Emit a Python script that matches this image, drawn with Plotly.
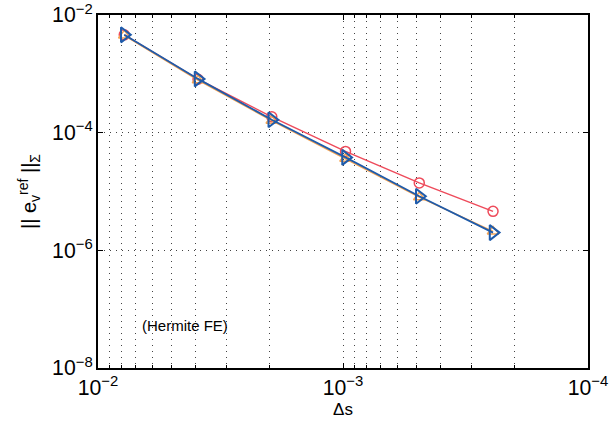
import plotly.graph_objects as go

ds = [1/128, 1/256, 1/512, 1/1024, 1/2048, 1/4096]
err_red = [4.6e-3, 8.1e-4, 1.86e-4, 4.8e-5, 1.4e-5, 4.6e-6]
err_orange = [4.5e-3, 7.8e-4, 1.6e-4, 3.6e-5, 8.0e-6, 2.1e-6]
err_blue = [4.6e-3, 8.2e-4, 1.66e-4, 3.8e-5, 8.3e-6, 2.0e-6]

FONT = "Liberation Sans, Arial"

fig = go.Figure()
fig.add_trace(go.Scatter(x=ds, y=err_red, mode="lines+markers",
                         line=dict(color="#EE4B5B", width=1.5),
                         marker=dict(symbol="circle-open", size=10, color="#EE4B5B", line=dict(width=1.5))))
fig.add_trace(go.Scatter(x=ds, y=err_orange, mode="lines+markers",
                         line=dict(color="#F7A451", width=1.5),
                         marker=dict(symbol="triangle-up-open", size=10, color="#F7A451", line=dict(width=1.5))))
fig.add_trace(go.Scatter(x=ds, y=err_blue, mode="lines+markers",
                         line=dict(color="#1F5BAA", width=1.8),
                         marker=dict(symbol="triangle-right-open", size=13, color="#1F5BAA", line=dict(width=2))))

GRID = dict(gridcolor="#444", griddash="1px,5px", gridwidth=1)

axis_common = dict(showline=True, linecolor="black", linewidth=1.8, mirror="ticks",
                   ticks="inside", ticklen=5, tickcolor="black", automargin=False,
                   exponentformat="power", showexponent="all", zeroline=False,
                   tickfont=dict(family=FONT, size=17, color="black"), **GRID)

fig.update_xaxes(type="log", range=[-2, -4], dtick=1,
                 minor=dict(dtick="D1", showgrid=True, ticks="inside", ticklen=3, tickcolor="black", **GRID),
                 title=dict(text="Δs", font=dict(family=FONT, size=17, color="black"), standoff=0),
                 **axis_common)
fig.update_yaxes(type="log", range=[-8, -2], dtick=2,
                 title=dict(text="|| e<sub>v</sub><sup>ref</sup> ||<sub>Σ</sub>",
                            font=dict(family=FONT, size=20, color="black"), standoff=10),
                 **axis_common)

fig.add_annotation(x=0.085, y=0.12, xref="paper", yref="paper", xanchor="left", yanchor="middle",
                   text="(Hermite FE)", showarrow=False,
                   font=dict(family=FONT, size=15, color="black"))

fig.update_layout(width=614, height=430, margin=dict(l=98, r=26, t=15, b=62),
                  plot_bgcolor="white", paper_bgcolor="white", showlegend=False)

fig.write_html("out.html", config={"displayModeBar": False},
               post_script="document.body.style.margin='0';document.body.style.overflow='hidden';")
